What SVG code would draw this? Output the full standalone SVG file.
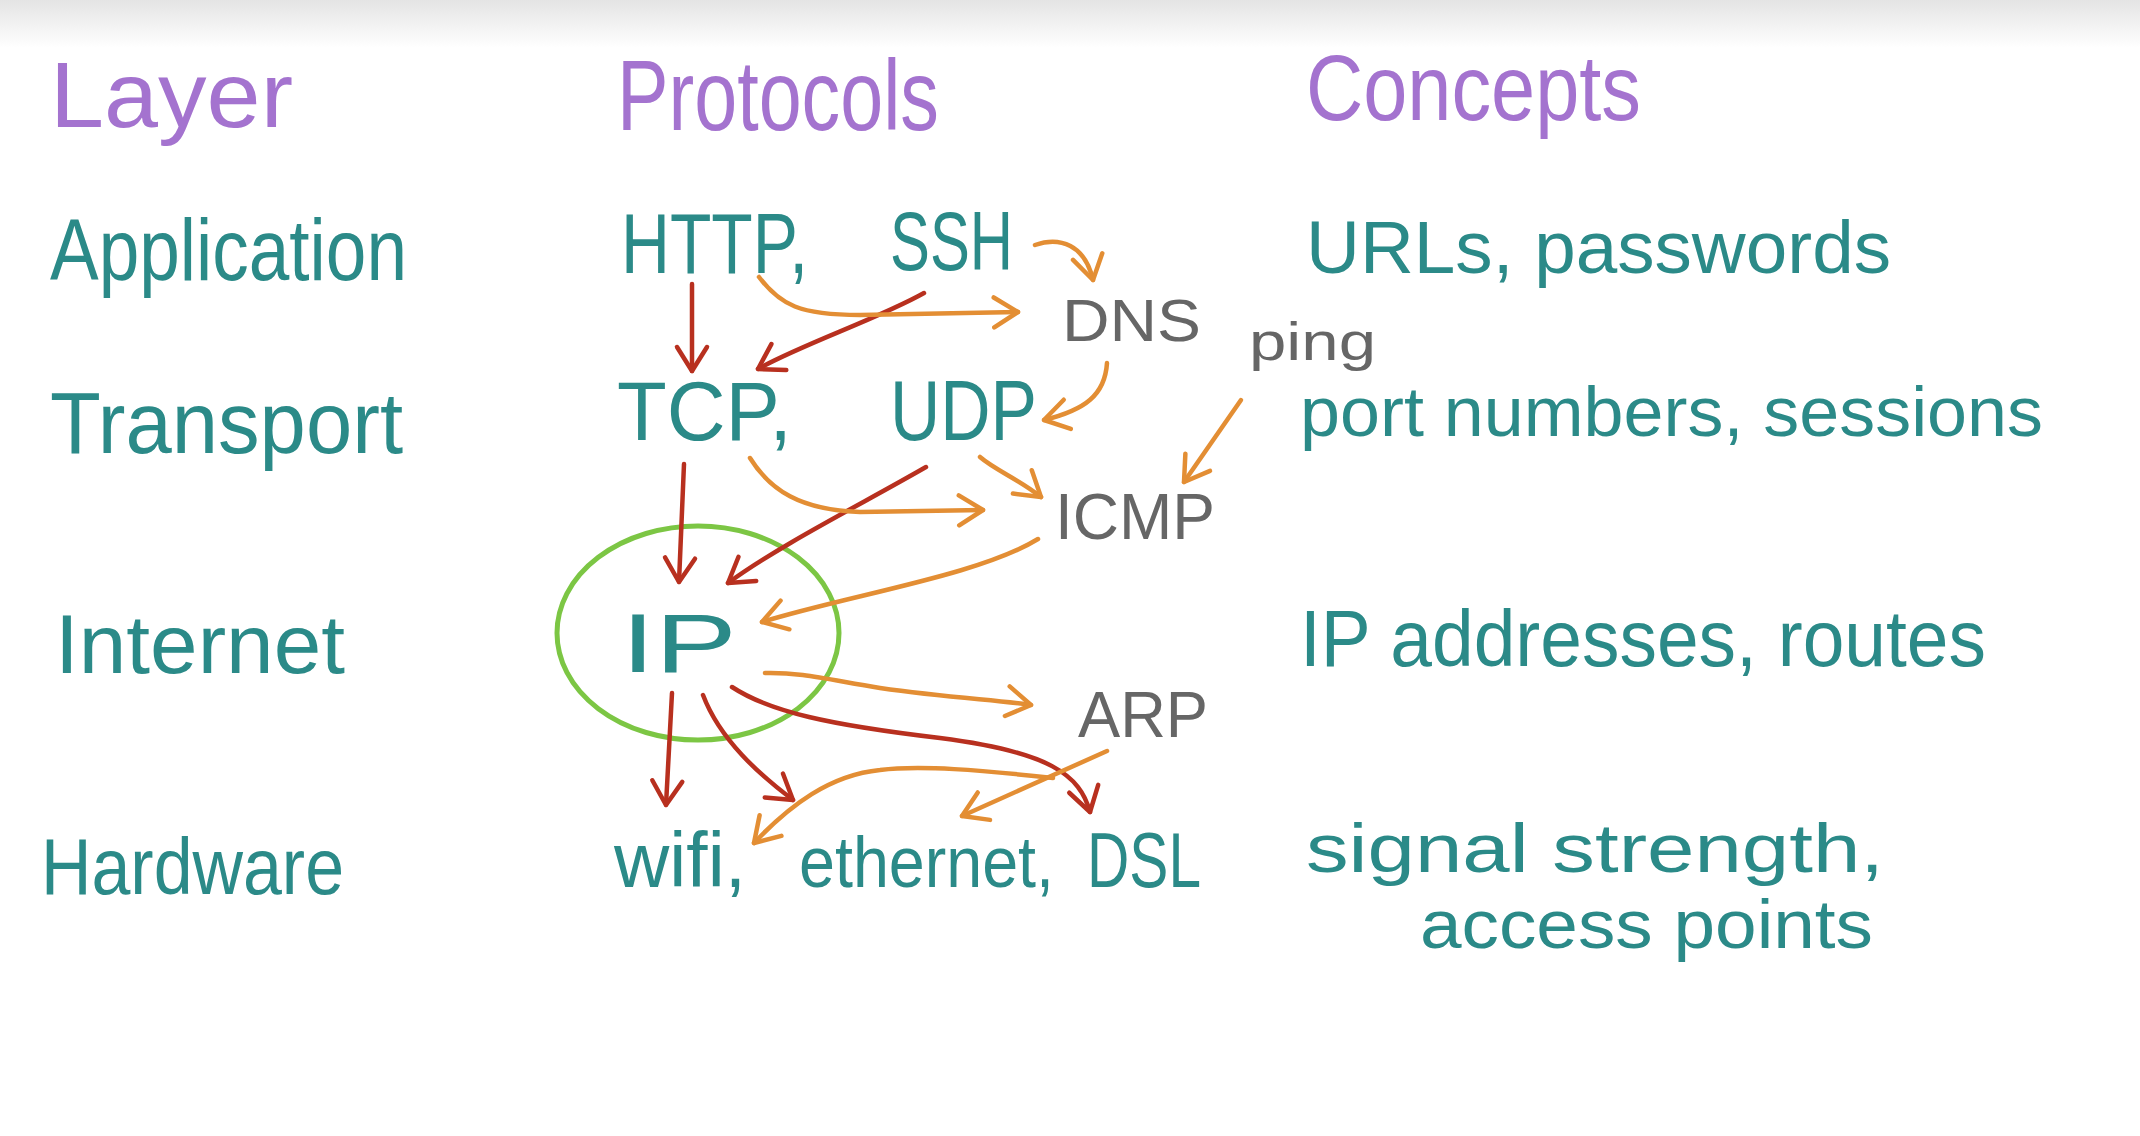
<svg xmlns="http://www.w3.org/2000/svg" width="2140" height="1136" viewBox="0 0 2140 1136">
<style>
text{font-family:"Liberation Sans","Noto Sans",sans-serif;font-weight:400}
.hd{fill:#a473cf}
.tl{fill:#2b8a88}
.gy{fill:#666666}
.red{fill:none;stroke:#b8301f;stroke-width:4.5;stroke-linecap:round;stroke-linejoin:round;marker-end:url(#mr)}
.org{fill:none;stroke:#e38e34;stroke-width:4.5;stroke-linecap:round;stroke-linejoin:round;marker-end:url(#mo)}
</style>
<defs>
<linearGradient id="top" x1="0" y1="0" x2="0" y2="1">
<stop offset="0" stop-color="#e4e4e4"/>
<stop offset="1" stop-color="#ffffff"/>
</linearGradient>
<marker id="mr" markerUnits="userSpaceOnUse" viewBox="-32 -20 36 40" refX="0" refY="0" markerWidth="36" markerHeight="40" orient="auto">
<path d="M-24,-15 L0,0 L-24,15" fill="none" stroke="#b8301f" stroke-width="4.5" stroke-linecap="round" stroke-linejoin="round"/>
</marker>
<marker id="mo" markerUnits="userSpaceOnUse" viewBox="-32 -20 36 40" refX="0" refY="0" markerWidth="36" markerHeight="40" orient="auto">
<path d="M-24,-15 L0,0 L-24,15" fill="none" stroke="#e38e34" stroke-width="4.5" stroke-linecap="round" stroke-linejoin="round"/>
</marker>
</defs>
<rect x="0" y="0" width="2140" height="1136" fill="#ffffff"/>
<rect x="0" y="0" width="2140" height="48" fill="url(#top)"/>

<g id="headers">
<text class="hd" x="50" y="127" font-size="92" textLength="243" lengthAdjust="spacingAndGlyphs">Layer</text>
<text class="hd" x="617" y="130" font-size="100" textLength="322" lengthAdjust="spacingAndGlyphs">Protocols</text>
<text class="hd" x="1306" y="120" font-size="92" textLength="335" lengthAdjust="spacingAndGlyphs">Concepts</text>
</g>

<g id="layers">
<text class="tl" x="50" y="280" font-size="88" textLength="357" lengthAdjust="spacingAndGlyphs">Application</text>
<text class="tl" x="50" y="453" font-size="88" textLength="353" lengthAdjust="spacingAndGlyphs">Transport</text>
<text class="tl" x="55" y="673" font-size="84" textLength="290" lengthAdjust="spacingAndGlyphs">Internet</text>
<text class="tl" x="41" y="894" font-size="80" textLength="303" lengthAdjust="spacingAndGlyphs">Hardware</text>
</g>

<g id="ip-circle">
<ellipse cx="698" cy="633" rx="141" ry="107" fill="none" stroke="#7cc644" stroke-width="5"/>
</g>

<g id="connectors">
<path class="red" d="M692,284 L692,371"/>
<path class="red" d="M924,293 C880,318 800,345 758,369"/>
<path class="red" d="M684,464 L679,582"/>
<path class="red" d="M926,467 C860,505 780,545 728,583"/>
<path class="red" d="M672,693 L666,805"/>
<path class="red" d="M703,695 C720,740 760,775 793,800"/>
<path class="red" d="M732,687 C770,712 830,725 940,738 C1050,752 1080,775 1090,812"/>
<path class="org" d="M759,277 C780,305 800,315 860,315 L1018,312"/>
<path class="org" d="M1035,245 C1060,236 1085,245 1093,280"/>
<path class="org" d="M1107,363 C1105,395 1085,410 1044,420"/>
<path class="org" d="M750,458 C770,490 800,510 860,512 L983,510"/>
<path class="org" d="M980,457 C995,470 1020,480 1041,497"/>
<path class="org" d="M1241,400 L1184,482"/>
<path class="org" d="M1038,539 C980,575 850,595 762,622"/>
<path class="org" d="M765,673 C800,672 830,680 880,688 C950,698 1000,700 1031,705"/>
<path class="org" d="M1107,751 L962,816"/>
<path class="org" d="M1053,778 C980,770 920,765 880,770 C830,775 790,805 754,843"/>
</g>

<g id="http"><text class="tl" x="621" y="273" font-size="86" textLength="187" lengthAdjust="spacingAndGlyphs">HTTP,</text></g>
<g id="ssh"><text class="tl" x="890" y="270" font-size="84" textLength="123" lengthAdjust="spacingAndGlyphs">SSH</text></g>
<g id="dns"><text class="gy" x="1062" y="341" font-size="60" textLength="139" lengthAdjust="spacingAndGlyphs">DNS</text></g>
<g id="tcp"><text class="tl" x="617" y="440" font-size="84" textLength="175" lengthAdjust="spacingAndGlyphs">TCP,</text></g>
<g id="udp"><text class="tl" x="890" y="440" font-size="86" textLength="147" lengthAdjust="spacingAndGlyphs">UDP</text></g>
<g id="ping"><text class="gy" x="1249" y="360" font-size="54" textLength="127" lengthAdjust="spacingAndGlyphs">ping</text></g>
<g id="icmp"><text class="gy" x="1055" y="539" font-size="64" textLength="160" lengthAdjust="spacingAndGlyphs">ICMP</text></g>
<g id="ip"><text class="tl" x="621" y="672" font-size="84" textLength="116" lengthAdjust="spacingAndGlyphs">IP</text></g>
<g id="arp"><text class="gy" x="1078" y="737" font-size="64" textLength="130" lengthAdjust="spacingAndGlyphs">ARP</text></g>
<g id="wifi"><text class="tl" x="614" y="887" font-size="78" textLength="132" lengthAdjust="spacingAndGlyphs">wifi,</text></g>
<g id="ethernet"><text class="tl" x="799" y="887" font-size="72" textLength="255" lengthAdjust="spacingAndGlyphs">ethernet,</text></g>
<g id="dsl"><text class="tl" x="1087" y="887" font-size="78" textLength="114" lengthAdjust="spacingAndGlyphs">DSL</text></g>

<g id="concepts">
<text class="tl" x="1306" y="273" font-size="74" textLength="585" lengthAdjust="spacingAndGlyphs">URLs, passwords</text>
<text class="tl" x="1300" y="436" font-size="70" textLength="743" lengthAdjust="spacingAndGlyphs">port numbers, sessions</text>
<text class="tl" x="1300" y="666" font-size="80" textLength="686" lengthAdjust="spacingAndGlyphs">IP addresses, routes</text>
<text class="tl" x="1306" y="872" font-size="68" textLength="578" lengthAdjust="spacingAndGlyphs">signal strength,</text>
<text class="tl" x="1420" y="948" font-size="68" textLength="453" lengthAdjust="spacingAndGlyphs">access points</text>
</g>
</svg>
